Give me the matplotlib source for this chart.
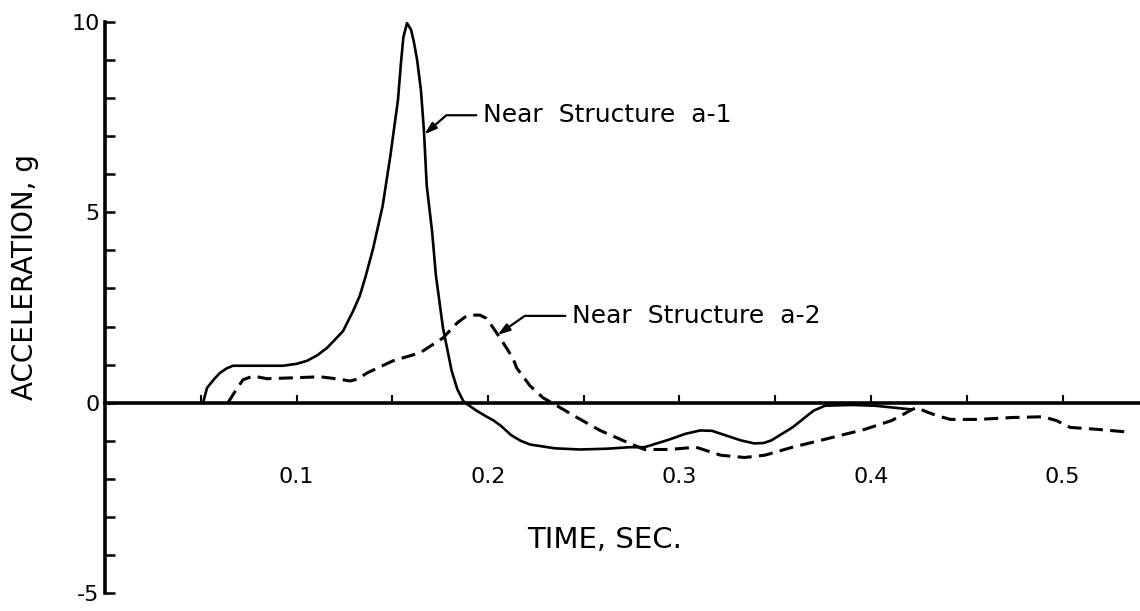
import matplotlib
matplotlib.use("Agg")
import matplotlib.pyplot as plt

plt.rcParams['font.family'] = ['DejaVu Sans']

# ---- data ----
t_a1 = [0.0512, 0.0533, 0.057, 0.060, 0.0635, 0.0668, 0.080, 0.093, 0.1000, 0.1055,
        0.111, 0.116, 0.1243, 0.1295, 0.133, 0.136, 0.140, 0.145, 0.149, 0.153,
        0.1545, 0.1558, 0.1577, 0.1598, 0.1612, 0.163, 0.165, 0.1666, 0.168, 0.1708,
        0.1728, 0.1765, 0.181, 0.184, 0.187, 0.188, 0.194, 0.199, 0.203, 0.207,
        0.212, 0.217, 0.222, 0.235, 0.248, 0.262, 0.274, 0.2817, 0.2946, 0.3030,
        0.3108, 0.317, 0.323, 0.332, 0.339, 0.344, 0.348, 0.359, 0.370, 0.376,
        0.390, 0.402, 0.4215]
g_a1 = [0.0, 0.39, 0.62, 0.78, 0.90, 0.97, 0.97, 0.97, 1.02, 1.10,
        1.25, 1.44, 1.88, 2.40, 2.80, 3.30, 4.05, 5.17, 6.48, 7.96,
        8.90, 9.60, 9.97, 9.80, 9.50, 9.00, 8.20, 7.10, 5.70, 4.50,
        3.34, 1.96, 0.84, 0.35, 0.05, 0.0, -0.21, -0.36, -0.47, -0.62,
        -0.85, -1.00, -1.10, -1.20, -1.23, -1.21, -1.17, -1.17, -0.97, -0.82,
        -0.73, -0.74, -0.84, -0.99, -1.07, -1.06, -0.99, -0.65, -0.21, -0.08,
        -0.06, -0.08, -0.18]

t_a2 = [0.0642, 0.068, 0.072, 0.0773, 0.0846, 0.0966, 0.1123, 0.1220, 0.128, 0.1320,
        0.1368, 0.1504, 0.1645, 0.1765, 0.1838, 0.1880, 0.1906, 0.1958, 0.1990, 0.201,
        0.2063, 0.213, 0.215, 0.222, 0.2287, 0.236, 0.2465, 0.2585, 0.2726, 0.2817,
        0.2946, 0.3086, 0.3215, 0.3339, 0.3446, 0.359, 0.3753, 0.3968, 0.4108, 0.4215,
        0.4237, 0.4290, 0.4344, 0.4414, 0.456, 0.4737, 0.4898, 0.4968, 0.504, 0.518,
        0.536]
g_a2 = [0.0, 0.30, 0.60, 0.70, 0.63, 0.65, 0.68, 0.62, 0.57, 0.62,
        0.78, 1.10, 1.31, 1.70, 2.09, 2.25, 2.30, 2.30, 2.22, 2.09,
        1.70, 1.17, 0.91, 0.44, 0.13, -0.08, -0.39, -0.73, -1.04, -1.23,
        -1.23, -1.17, -1.38, -1.44, -1.38, -1.17, -0.97, -0.70, -0.47, -0.18,
        -0.13, -0.24, -0.34, -0.44, -0.44, -0.39, -0.37, -0.47, -0.65, -0.70,
        -0.78]

x_ticks = [0.05, 0.10, 0.15, 0.20, 0.25, 0.30, 0.35, 0.40, 0.45, 0.50]
x_tick_labels = ['', '0.1', '', '0.2', '', '0.3', '', '0.4', '', '0.5']
y_ticks = list(range(-5, 11))
y_tick_labels = ['-5' if v == -5 else '0' if v == 0 else '5' if v == 5 else '10' if v == 10 else ''
                 for v in y_ticks]

label_a1 = 'Near  Structure  a-1'
label_a2 = 'Near  Structure  a-2'
point_a1 = (0.1668, 7.05)
point_a2 = (0.2050, 1.78)
text_a1 = (0.1975, 7.55)
text_a2 = (0.2440, 2.28)

W, H = 1140, 611
fig = plt.figure(figsize=(W / 100, H / 100), dpi=100)
ax = fig.add_axes([105 / W, (H - 593) / H, (W - 105) / W, (593 - 22) / H])
ax.set_xlim(0, (W - 105) / 1915)
ax.set_ylim(-5, 10)

ax.plot(t_a1, g_a1, color='black', lw=1.9, solid_capstyle='round', solid_joinstyle='round')
ax.plot(t_a2, g_a2, color='black', lw=2.2, linestyle=(0, (4.6, 2.4)), dash_capstyle='butt')

for sp in ['top', 'right']:
    ax.spines[sp].set_visible(False)
ax.spines['bottom'].set_position(('data', 0))
ax.spines['bottom'].set_linewidth(2.6)
ax.spines['left'].set_linewidth(2.6)

ax.set_xticks(x_ticks)
ax.set_xticklabels(x_tick_labels, fontsize=16)
ax.set_yticks(y_ticks)
ax.set_yticklabels(y_tick_labels, fontsize=16)
ax.tick_params(axis='x', direction='in', length=6, width=1.5, pad=46)
ax.tick_params(axis='y', direction='in', length=7, width=1.8, pad=4)

arrow_kw = dict(arrowstyle='-|>,head_length=0.4,head_width=0.13', color='black', lw=1.6,
                shrinkA=3, shrinkB=0, relpos=(0, 0.5))
ax.annotate(label_a1, xy=point_a1, xytext=text_a1, fontsize=18, ha='left', va='center',
            arrowprops=dict(connectionstyle='angle,angleA=0,angleB=41,rad=0', **arrow_kw))
ax.annotate(label_a2, xy=point_a2, xytext=text_a2, fontsize=18, ha='left', va='center',
            arrowprops=dict(connectionstyle='angle,angleA=0,angleB=35,rad=0', **arrow_kw))

fig.text(25 / W, 1 - 277 / H, 'ACCELERATION, g', rotation=90, ha='center', va='center', fontsize=20)
fig.text(605 / W, 1 - 540 / H, 'TIME, SEC.', ha='center', va='center', fontsize=21)

fig.savefig('out.png', dpi=100)
